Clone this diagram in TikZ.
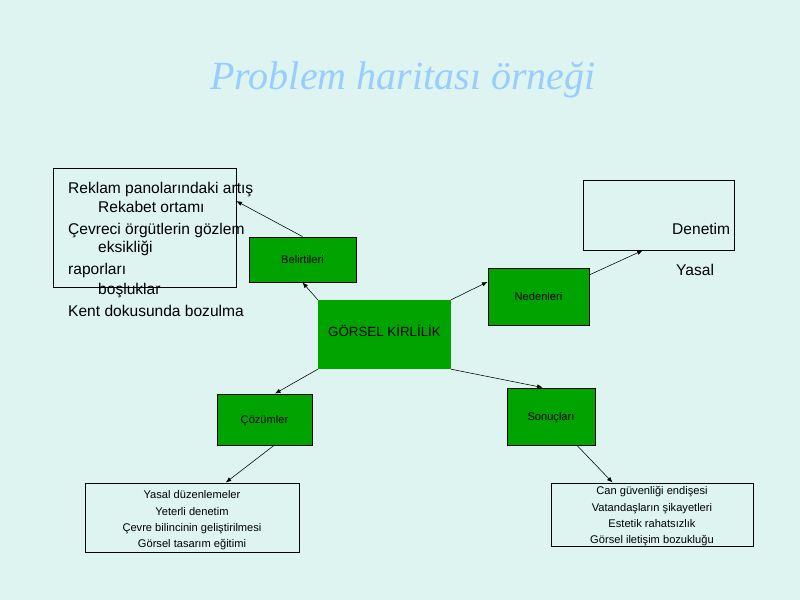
\documentclass[tikz,border=0pt]{standalone}
\usepackage{fontspec}
\setsansfont{Liberation Sans}
\newfontfamily\titlefont{Liberation Serif}
\usetikzlibrary{arrows.meta}
\definecolor{slidebg}{RGB}{221,244,240}
\definecolor{boxgreen}{RGB}{0,163,0}
\definecolor{titleblue}{RGB}{153,204,255}

\begin{document}
\begin{tikzpicture}[x=0.9pt, y=-0.9pt,
        every node/.style={font=\sffamily, inner sep=0pt},
        gbox/.style={fill=boxgreen, draw=black, line width=0.8pt, text depth=0pt, font=\sffamily\fontsize{10}{12}\selectfont},
        wbox/.style={draw=black, line width=0.8pt},
        item/.style={anchor=base west, font=\sffamily\fontsize{14}{16}\selectfont},
        list/.style={align=center, font=\sffamily\fontsize{10}{14.7}\selectfont},
        link/.style={-{Latex[length=5pt,width=4pt]}, line width=0.5pt}]
    \def\pxu{0.9pt}
    \fill[slidebg] (0,0) rectangle (800,600);
    \node[anchor=base, text=titleblue, font=\titlefont\fontsize{36}{42}\selectfont\itshape] (title) at (403,89) {Problem haritası örneği};

    % merkez ve dallar
    \node[fill=boxgreen, minimum width=133*\pxu, minimum height=69*\pxu, text depth=6.3pt, font=\sffamily\fontsize{12}{14}\selectfont] (cen) at (384.5,334.5) {GÖRSEL KİRLİLİK};
    \node[gbox, minimum width=107*\pxu, minimum height=45*\pxu] (bel) at (302.5,259.5) {Belirtileri};
    \node[gbox, minimum width=101*\pxu, minimum height=57*\pxu] (ned) at (538.5,296.5) {Nedenleri};
    \node[gbox, minimum width=95*\pxu, minimum height=51*\pxu] (coz) at (264.5,419.5) {Çözümler};
    \node[gbox, minimum width=88*\pxu, minimum height=57*\pxu] (son) at (551,416.5) {Sonuçları};

    % belirtiler
    \node[wbox, minimum width=183*\pxu, minimum height=119*\pxu] (belbox) at (144.5,227.5) {};
    \foreach \i/\x/\y/\t in {1/68/193/Reklam panolarındaki artış, 2/98/212/Rekabet ortamı,
            3/68/234/Çevreci örgütlerin gözlem, 4/98/252/eksikliği, 5/68/274/raporları,
            6/98/294/boşluklar, 7/68/316/Kent dokusunda bozulma} {
        \node[item] (bl\i) at (\x,\y) {\t};
    }

    % nedenler
    \node[wbox, minimum width=151*\pxu, minimum height=70*\pxu] (nedbox) at (658.5,215) {};
    \node[item] (den) at (672,234) {Denetim};
    \node[item] (yas) at (676,275) {Yasal};

    % cozumler ve sonuclar
    \node[wbox, minimum width=214*\pxu, minimum height=69*\pxu] (cozbox) at (192,517.5) {};
    \node[list] (cozlist) at (192,520.5)
        {Yasal düzenlemeler\\Yeterli denetim\\Çevre bilincinin geliştirilmesi\\Görsel tasarım eğitimi};
    \node[wbox, minimum width=202*\pxu, minimum height=63*\pxu] (sonbox) at (652,514.5) {};
    \node[list] (sonlist) at (652,516.5)
        {Can güvenliği endişesi\\Vatandaşların şikayetleri\\Estetik rahatsızlık\\Görsel iletişim bozukluğu};

    \draw[link] (cen.north west) -- (bel.south);
    \draw[link] (bel.north) -- (belbox.16);
    \draw[link] (cen.north east) -- (ned.164);
    \draw[link] (ned.23) -- (nedbox.246);
    \draw[link] (cen.south west) -- (coz.68);
    \draw[link] (cen.south east) -- (son.106);
    \draw[link] (coz.-70) -- (cozbox.46);
    \draw[link] (son.-48) -- (sonbox.141);
\end{tikzpicture}
\end{document}
